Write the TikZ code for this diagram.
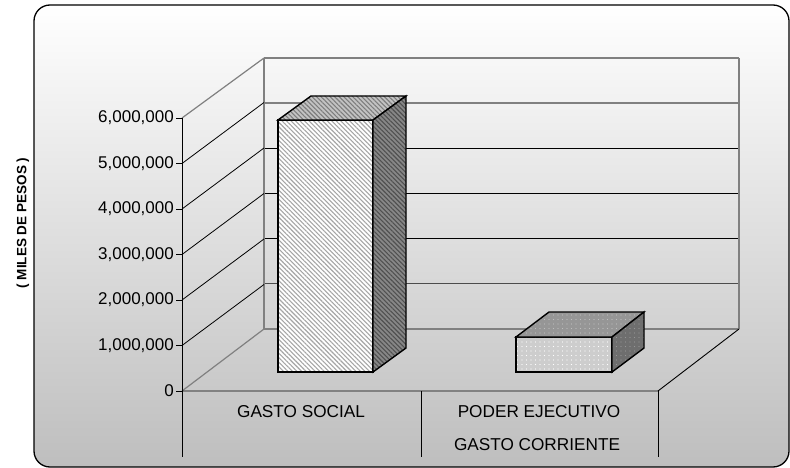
\documentclass[tikz,border=0pt]{standalone}
\usepackage{fontspec}
\setmainfont{Liberation Sans}
\usetikzlibrary{patterns.meta}
\definecolor{bgbot}{RGB}{190,190,190}
\definecolor{gridgray}{RGB}{128,128,128}
\definecolor{hatchA}{RGB}{165,165,165}
\definecolor{topA}{RGB}{195,195,195}
\definecolor{topAh}{RGB}{125,125,125}
\definecolor{sideA}{RGB}{135,135,135}
\definecolor{sideAh}{RGB}{80,80,80}
\definecolor{frontB}{RGB}{205,205,205}
\definecolor{topB}{RGB}{150,150,150}
\definecolor{topBd}{RGB}{190,190,190}
\definecolor{sideB}{RGB}{110,110,110}
\definecolor{sideBd}{RGB}{150,150,150}
\tikzset{
  wallline/.style={draw=gridgray, line width=1.2pt},
  gridline/.style={draw=black, line width=0.8pt},
  axisline/.style={draw=black, line width=0.9pt},
  barface/.style={draw=black, line width=1.4pt, line join=miter},
  ylab/.style={anchor=east, inner sep=0pt, font=\fontsize{17}{19}\selectfont},
  catlab/.style={inner sep=0pt, font=\fontsize{17.2}{19}\selectfont},
  hatch/.style={pattern={Lines[angle=-45,distance=3.2pt,line width=1.1pt]}},
  dots/.style={pattern={Dots[distance=4.5pt,radius=0.7pt]}},
}
\begin{document}
\begin{tikzpicture}[x={(1pt,0)}, y={(0,-1pt)}]
\useasboundingbox (0,0) rectangle (790,468);
% frame with gradient
\shade[top color=white, bottom color=bgbot, rounded corners=16pt]
  (34,5) rectangle (789,467);
\draw[black, line width=1.3pt, rounded corners=16pt] (34,5) rectangle (789,467);

% back wall gridlines
\draw[wallline] (264,58) -- (739,58);
\draw[wallline] (264,103) -- (739,103);
\foreach \yy in {148,193,238} \draw[gridline] (264,\yy) -- (739,\yy);
\draw[draw=black!70, line width=0.9pt] (264,283) -- (739,283);
\draw[wallline] (264,329) -- (739,329);
\draw[wallline] (264,58) -- (264,329);
\draw[wallline] (739,58) -- (739,329);

% left wall diagonals
\draw[wallline] (182,118) -- (264,58);
\foreach \k in {1,...,5} {
  \pgfmathsetmacro{\yf}{391-45.5*\k}
  \pgfmathsetmacro{\yb}{\yf-61}
  \draw[gridline] (182,\yf) -- (264,\yb);
}
\draw[wallline] (182,391) -- (264,329);

% floor
\draw[axisline] (182,391) -- (658,391) -- (739,329);

% axis and separators
\draw[axisline] (182,118) -- (182,457);
\draw[axisline] (421,391) -- (421,457);
\draw[axisline] (658,391) -- (658,457);

% ticks and labels
\foreach \k/\lab in {0/0,1/{1,000,000},2/{2,000,000},3/{3,000,000},4/{4,000,000},5/{5,000,000},6/{6,000,000}} {
  \pgfmathsetmacro{\yt}{391-45.5*\k}
  \draw[axisline] (176,\yt) -- (182,\yt);
  \node[ylab] (y\k) at (174,\yt) {\lab};
}

% bar 1 (GASTO SOCIAL)
\fill[white] (278,120) rectangle (373,372);
\fill[hatch, pattern color=hatchA] (278,120) rectangle (373,372);
\draw[barface] (278,120) rectangle (373,372);
\fill[topA] (278,120) -- (311,96) -- (406,96) -- (373,120) -- cycle;
\fill[hatch, pattern color=topAh] (278,120) -- (311,96) -- (406,96) -- (373,120) -- cycle;
\draw[barface] (278,120) -- (311,96) -- (406,96) -- (373,120) -- cycle;
\fill[sideA] (373,120) -- (406,96) -- (406,348) -- (373,372) -- cycle;
\fill[hatch, pattern color=sideAh] (373,120) -- (406,96) -- (406,348) -- (373,372) -- cycle;
\draw[barface] (373,120) -- (406,96) -- (406,348) -- (373,372) -- cycle;

% bar 2 (PODER EJECUTIVO)
\fill[frontB] (516,337) rectangle (612,372);
\fill[dots, pattern color=white] (516,337) rectangle (612,372);
\draw[barface] (516,337) rectangle (612,372);
\fill[topB] (516,337) -- (549,312) -- (644,312) -- (612,337) -- cycle;
\fill[dots, pattern color=topBd] (516,337) -- (549,312) -- (644,312) -- (612,337) -- cycle;
\draw[barface] (516,337) -- (549,312) -- (644,312) -- (612,337) -- cycle;
\fill[sideB] (612,337) -- (644,312) -- (644,348) -- (612,372) -- cycle;
\fill[dots, pattern color=sideBd] (612,337) -- (644,312) -- (644,348) -- (612,372) -- cycle;
\draw[barface] (612,337) -- (644,312) -- (644,348) -- (612,372) -- cycle;

% category labels
\node[catlab] (c1) at (301,412) {GASTO SOCIAL};
\node[catlab] (c2a) at (539,412) {PODER EJECUTIVO};
\node[catlab] (c2b) at (537,445) {GASTO CORRIENTE};

% axis title
\node[rotate=90, inner sep=0pt, font=\bfseries\fontsize{13.5}{15}\selectfont] (ytitle) at (23,223) {( MILES DE PESOS )};
\end{tikzpicture}
\end{document}
